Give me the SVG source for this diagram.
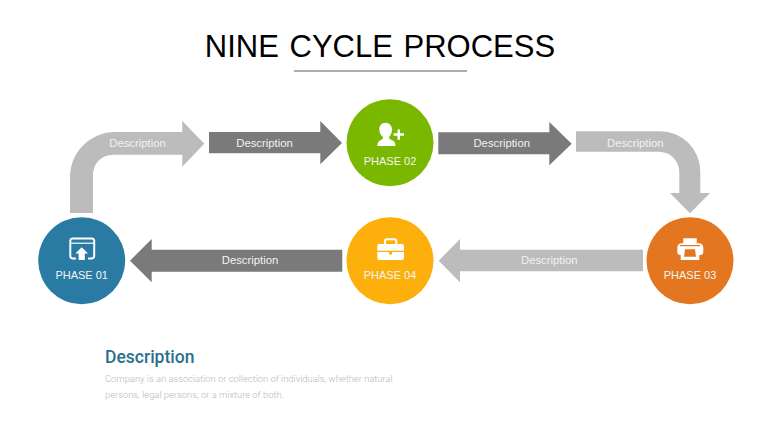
<svg xmlns="http://www.w3.org/2000/svg" width="760" height="428" viewBox="0 0 760 428">
<style>
text{font-family:"Liberation Sans",Arial,sans-serif}
.dark{fill:#7a7a7a}
.light{fill:#bcbcbc}
.lbl{font-size:11.3px;fill:#f2f2f2;text-anchor:middle}
.ph{font-size:11px;fill:#f4f4f4;text-anchor:middle}
.ic{fill:#fff}
.ics{fill:none;stroke:#fff;stroke-width:2}
</style>
<rect width="760" height="428" fill="#fff"/>
<text x="380" y="56.5" font-size="31" word-spacing="2" text-anchor="middle" fill="#000">NINE CYCLE PROCESS</text>
<rect x="294" y="70.300" width="173" height="1.400" fill="#8c8c8c"/>
<g id="connectors">
<path class="light" d="M70 213V177A45 45 0 0 1 115 132H182.300V121L204.300 143.700L182.300 166.700V154.700H113A20 20 0 0 0 93 174.700V213Z"/>
<path class="dark" d="M209 132H320.300V121L342 143L320.300 164.300V153.300H209Z"/>
<path class="dark" d="M438.300 132.300H549.300V122L571.700 143.700L549.300 165.300V154.300H438.300Z"/>
<path class="light" d="M576 131.300H660A40.300 40.300 0 0 1 700.300 171.600V193H710L690 213.300L670 193H679.300V172A20.300 20.300 0 0 0 659 151.700H576Z"/>
<path class="light" d="M643 249.700H460V239L438.700 260.700L460 282.300V271.300H643Z"/>
<path class="dark" d="M342.300 249.700H151.700V239L130 260.700L151.700 282.300V271.700H342.300Z"/>
<text class="lbl" x="137.500" y="147">Description</text>
<text class="lbl" x="264.500" y="147">Description</text>
<text class="lbl" x="501.700" y="147">Description</text>
<text class="lbl" x="635.300" y="147">Description</text>
<text class="lbl" x="549.300" y="264">Description</text>
<text class="lbl" x="250" y="264">Description</text>
</g>
<g id="phase-01">
<circle cx="81.700" cy="260.700" r="43.500" fill="#2a7ba4"/>
<path class="ics" d="M76 258.500H72.500A2.500 2.500 0 0 1 70.300 256V240.500A2.500 2.500 0 0 1 72.500 238.500H91.500A2.500 2.500 0 0 1 94.200 240.500V256A2.500 2.500 0 0 1 91.500 258.500H88"/>
<rect class="ic" x="70" y="242.600" width="24" height="1.200"/>
<path class="ic" d="M81.700 247.300L88 253.500H84.800V260H78.600V253.500H75.400Z"/>
<text class="ph" x="81.700" y="279.300">PHASE 01</text>
</g>
<g id="phase-02">
<circle cx="390" cy="142.700" r="43.500" fill="#7ab800"/>
<path class="ic" d="M385.500 122.700C389.500 122.700 392 126 392 129.500C392 133 390.500 135.500 389 137C389 138.500 390 139.500 392 140.200C394.500 141.200 395.500 142.500 395.500 146H377.300C377.300 142.500 378.500 141.200 380.500 140.200C382.500 139.500 383 138.500 383 137C381 135.500 379.300 133 379.300 129.500C379.300 126 381.500 122.700 385.500 122.700Z"/>
<path class="ic" d="M397.500 129.500H400V133.200H404V135.700H400V139.700H397.500V135.700H393.600V133.200H397.500Z"/>
<text class="ph" x="390" y="165">PHASE 02</text>
</g>
<g id="phase-03">
<circle cx="690" cy="260.700" r="43.500" fill="#e4761f"/>
<path class="ic" d="M683.300 238.300H696.700V243.300H699A4.300 4.300 0 0 1 703.300 247.600V252A3 3 0 0 1 700.300 255H699.300V260H680.700V255H680.300A3 3 0 0 1 677.300 252V247.600A4.300 4.300 0 0 1 681.600 243.300H683.300Z"/>
<path fill="#e4761f" d="M685 249.300H695L696 256.700H684Z"/>
<rect fill="#e4761f" x="680" y="245" width="20" height="1.200"/>
<text class="ph" x="690" y="279.300">PHASE 03</text>
</g>
<g id="phase-04">
<circle cx="390" cy="260.700" r="43.500" fill="#fdb00c"/>
<path class="ics" d="M385 244V241A1.800 1.800 0 0 1 386.800 239.300H394.500A1.800 1.800 0 0 1 396.300 241V244"/>
<path class="ic" d="M379.500 244H401.800A2.200 2.200 0 0 1 404 246.200V250.800H377.300V246.200A2.200 2.200 0 0 1 379.500 244Z"/>
<path class="ic" d="M377.300 252H389V254.500H392V252H404V257.800A2.200 2.200 0 0 1 401.800 260H379.500A2.200 2.200 0 0 1 377.300 257.800Z"/>
<text class="ph" x="390" y="279.300">PHASE 04</text>
</g>
<text x="105" y="362.700" font-size="17.500" font-weight="500" fill="#2a6f8e" style="font-family:Roboto,'Liberation Sans',sans-serif">Description</text>
<text x="105" y="382.300" font-size="9.400" font-weight="300" fill="#b8b8b8" style="font-family:Roboto,'Liberation Sans',sans-serif">Company is an association or collection of individuals, whether natural</text>
<text x="105" y="398" font-size="9.400" font-weight="300" fill="#b8b8b8" style="font-family:Roboto,'Liberation Sans',sans-serif">persons, legal persons, or a mixture of both.</text>
</svg>
